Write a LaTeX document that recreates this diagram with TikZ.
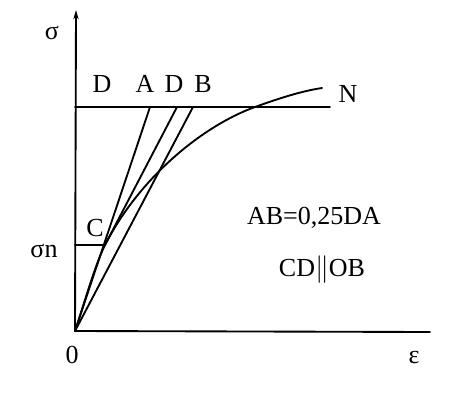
\documentclass[tikz,border=0pt]{standalone}
\usepackage{fontspec}
\setmainfont{Liberation Serif}
\usetikzlibrary{arrows.meta}

\begin{document}
\begin{tikzpicture}[x=0.75pt, y=0.75pt,
  lbl/.style={font=\fontsize{19.5}{20}\selectfont, inner sep=0pt},
  ln/.style={line width=1.4pt, line cap=round}]
  \useasboundingbox (0,0) rectangle (449,394);
  % points of the diagram (1 unit = 1 px of the figure)
  \coordinate (O) at (75,63);
  \coordinate (Stop) at (76,384);
  \coordinate (Eend) at (430,62);
  \coordinate (D1) at (75,287);
  \coordinate (L) at (330,287);
  \coordinate (A) at (150,287);
  \coordinate (D2) at (177,287);
  \coordinate (B) at (193,287);
  \coordinate (C) at (105,149);
  \coordinate (Cax) at (75,149);
  \coordinate (P) at (255,287);
  \coordinate (N) at (322,306);
  % axes
  \draw[ln, -{Stealth[length=7pt,width=4pt]}] (O) -- (Stop);
  \draw[ln] (O) -- (Eend);
  % level line and sigma_n line
  \draw[ln] (D1) -- (L);
  \draw[ln] (Cax) -- (C);
  % OA, OB and tangent CD
  \draw[ln] (O) -- (A);
  \draw[ln] (O) -- (B);
  \draw[ln] (C) -- (D2);
  % stress-strain curve
  \draw[ln] (O) .. controls (85,93) and (95,129) .. (C)
            .. controls (141,219) and (205,269) .. (P)
            .. controls (280,296) and (302,303) .. (N);
  % labels
  \node[lbl] (sig) at (52,361) {σ};
  \node[lbl] (sign) at (44,143) {σn};
  \node[lbl] (zero) at (72,39) {0};
  \node[lbl] (eps) at (414,37) {ε};
  \node[lbl] (lN) at (348,300) {N};
  \node[lbl] (lD1) at (102,310) {D};
  \node[lbl] (lA) at (145,310) {A};
  \node[lbl] (lD2) at (174,310) {D};
  \node[lbl] (lB) at (203,310) {B};
  \node[lbl] (lC) at (95,166) {C};
  \node[lbl] (ab) at (314,176) {AB=0,25DA};
  \node[lbl] (cd) at (322,124) {CD$\big\|$OB};
\end{tikzpicture}
\end{document}
